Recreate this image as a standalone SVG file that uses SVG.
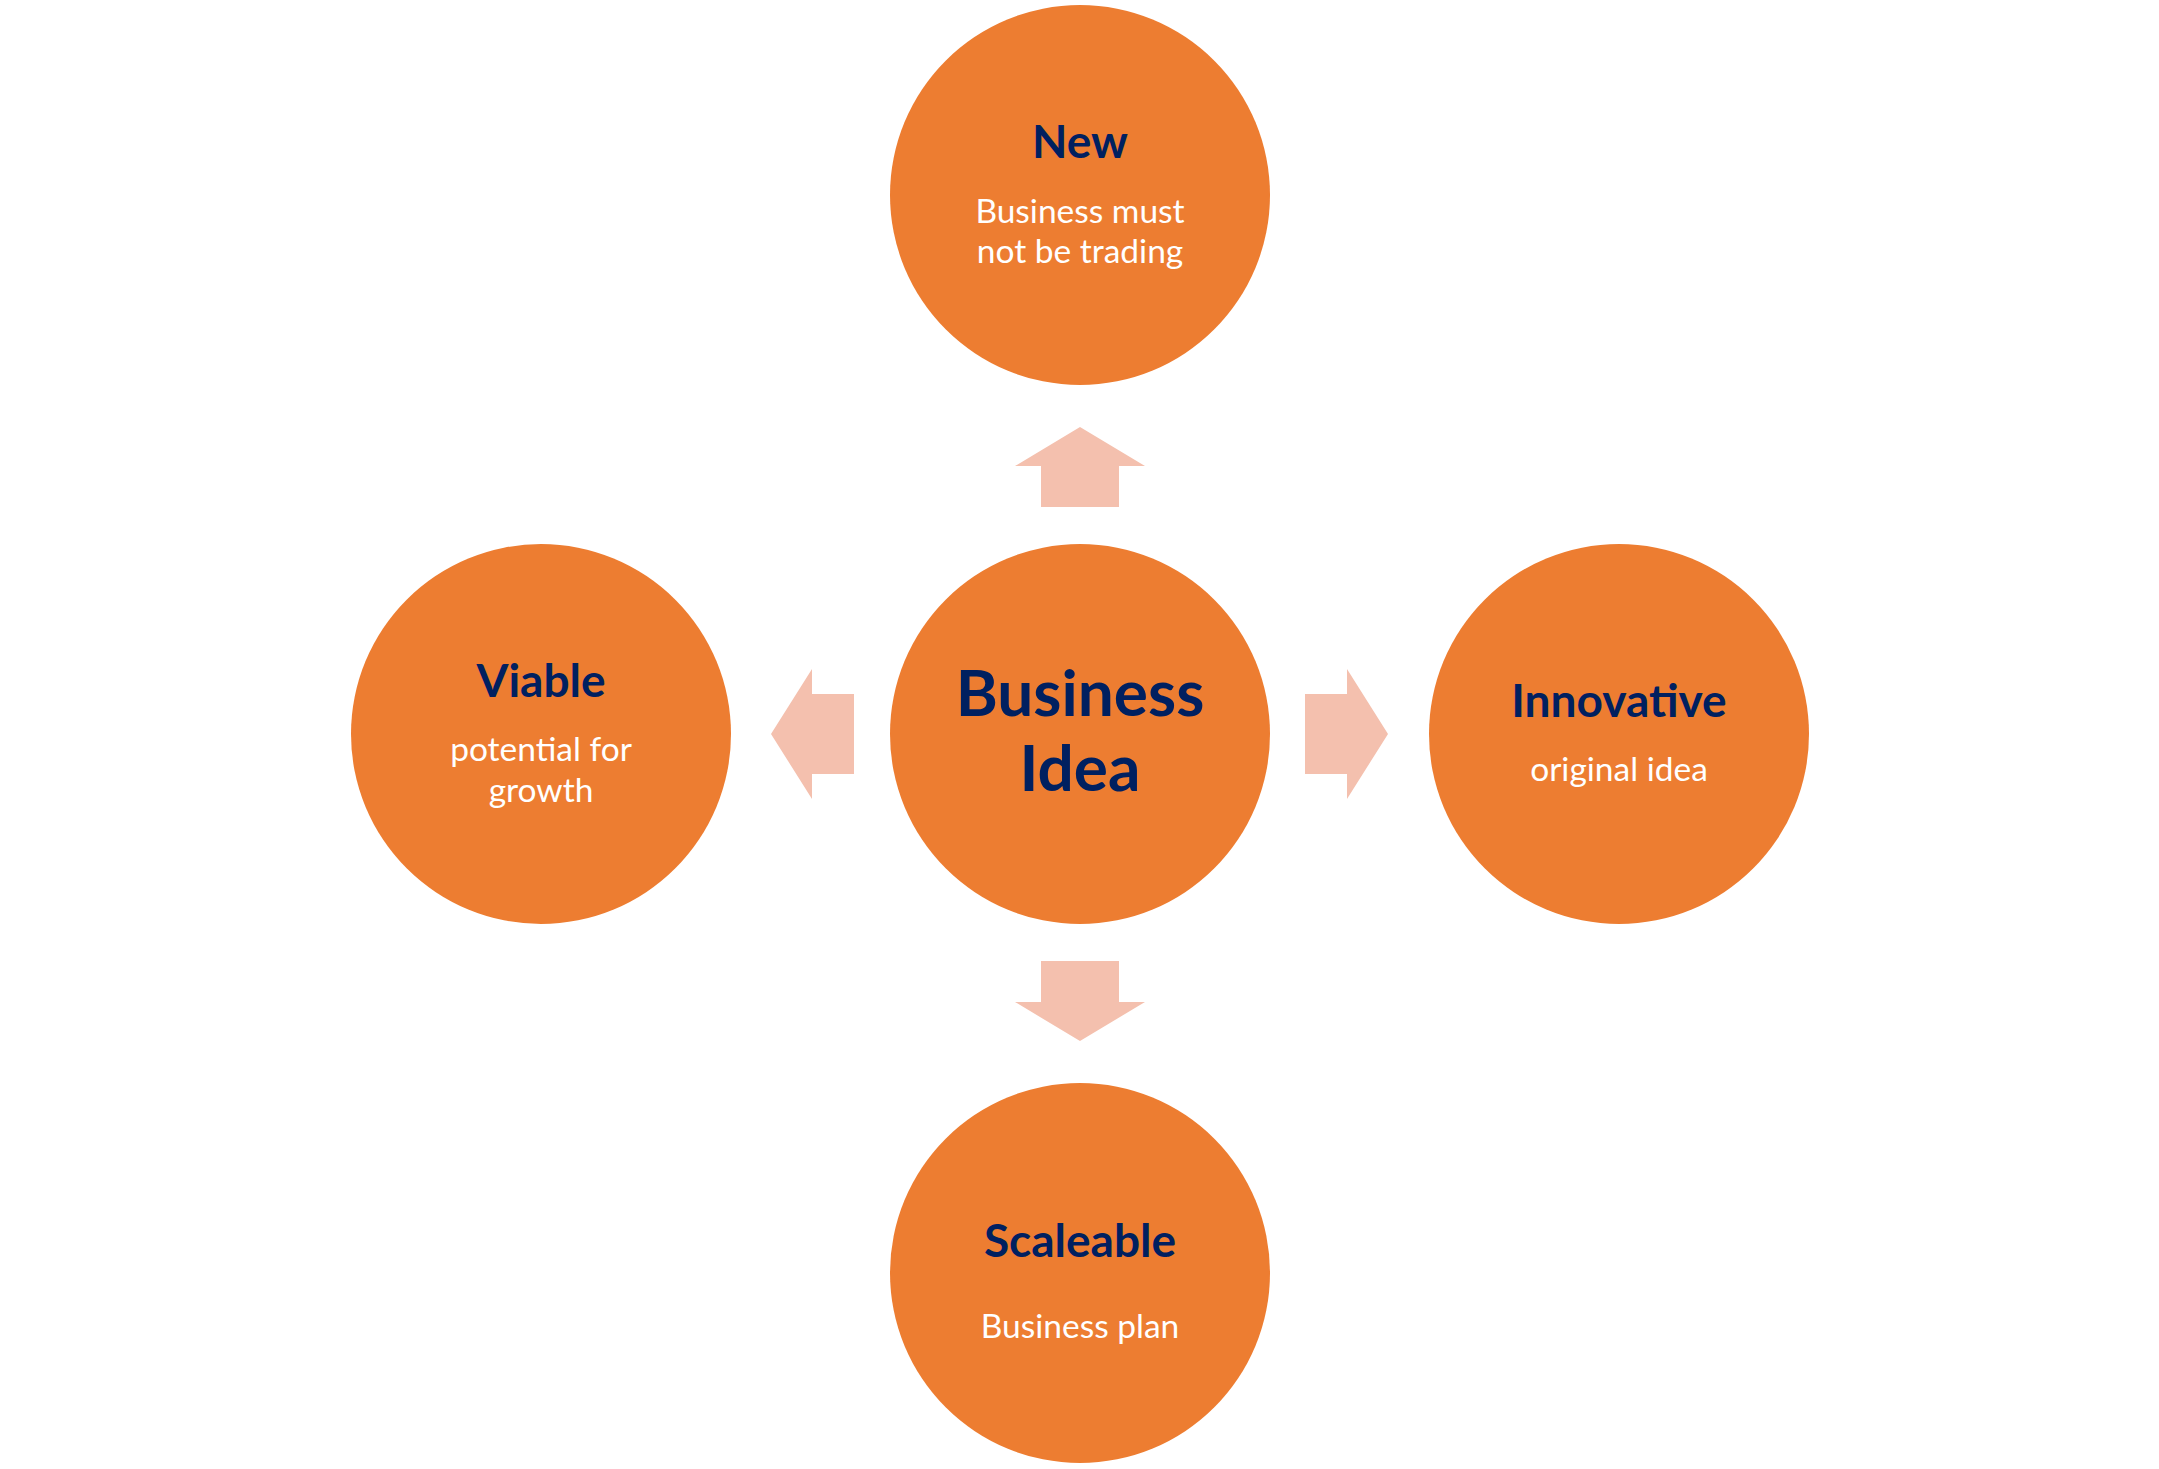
<svg xmlns="http://www.w3.org/2000/svg" width="2159" height="1469" viewBox="0 0 2159 1469">
<style>
.node{fill:#ED7D31}
.arrow{fill:#F4C0AE}
.t{font-family:Lato,"Open Sans","Liberation Sans",sans-serif;font-weight:bold;fill:#002060;text-anchor:middle}
.s{font-family:Lato,"Open Sans","Liberation Sans",sans-serif;fill:#FFFFFF;text-anchor:middle;font-size:33.5px}
</style>
<rect width="2159" height="1469" fill="#FFFFFF"/>
<g id="connectors">
<polygon class="arrow" points="1080,427 1015,466 1041,466 1041,507 1119,507 1119,466 1145,466"/>
<polygon class="arrow" points="1080,1041 1015,1002 1041,1002 1041,961 1119,961 1119,1002 1145,1002"/>
<polygon class="arrow" points="771,734 812,669 812,694 854,694 854,774 812,774 812,799"/>
<polygon class="arrow" points="1388,734 1347,669 1347,694 1305,694 1305,774 1347,774 1347,799"/>
</g>
<g id="node-center">
<circle class="node" cx="1080" cy="734" r="190"/>
<text class="t" x="1080" y="716" font-size="64">Business</text>
<text class="t" x="1080" y="791" font-size="64">Idea</text>
</g>
<g id="node-new">
<circle class="node" cx="1080" cy="195" r="190"/>
<text class="t" x="1080" y="158" font-size="46">New</text>
<text class="s" x="1080" y="223">Business must</text>
<text class="s" x="1080" y="263">not be trading</text>
</g>
<g id="node-viable">
<circle class="node" cx="541" cy="734" r="190"/>
<text class="t" x="541" y="697" font-size="46">Viable</text>
<text class="s" x="541" y="761">potential for</text>
<text class="s" x="541" y="802">growth</text>
</g>
<g id="node-innovative">
<circle class="node" cx="1619" cy="734" r="190"/>
<text class="t" x="1619" y="717" font-size="46">Innovative</text>
<text class="s" x="1619" y="781">original idea</text>
</g>
<g id="node-scaleable">
<circle class="node" cx="1080" cy="1273" r="190"/>
<text class="t" x="1080" y="1257" font-size="46">Scaleable</text>
<text class="s" x="1080" y="1338">Business plan</text>
</g>
</svg>
